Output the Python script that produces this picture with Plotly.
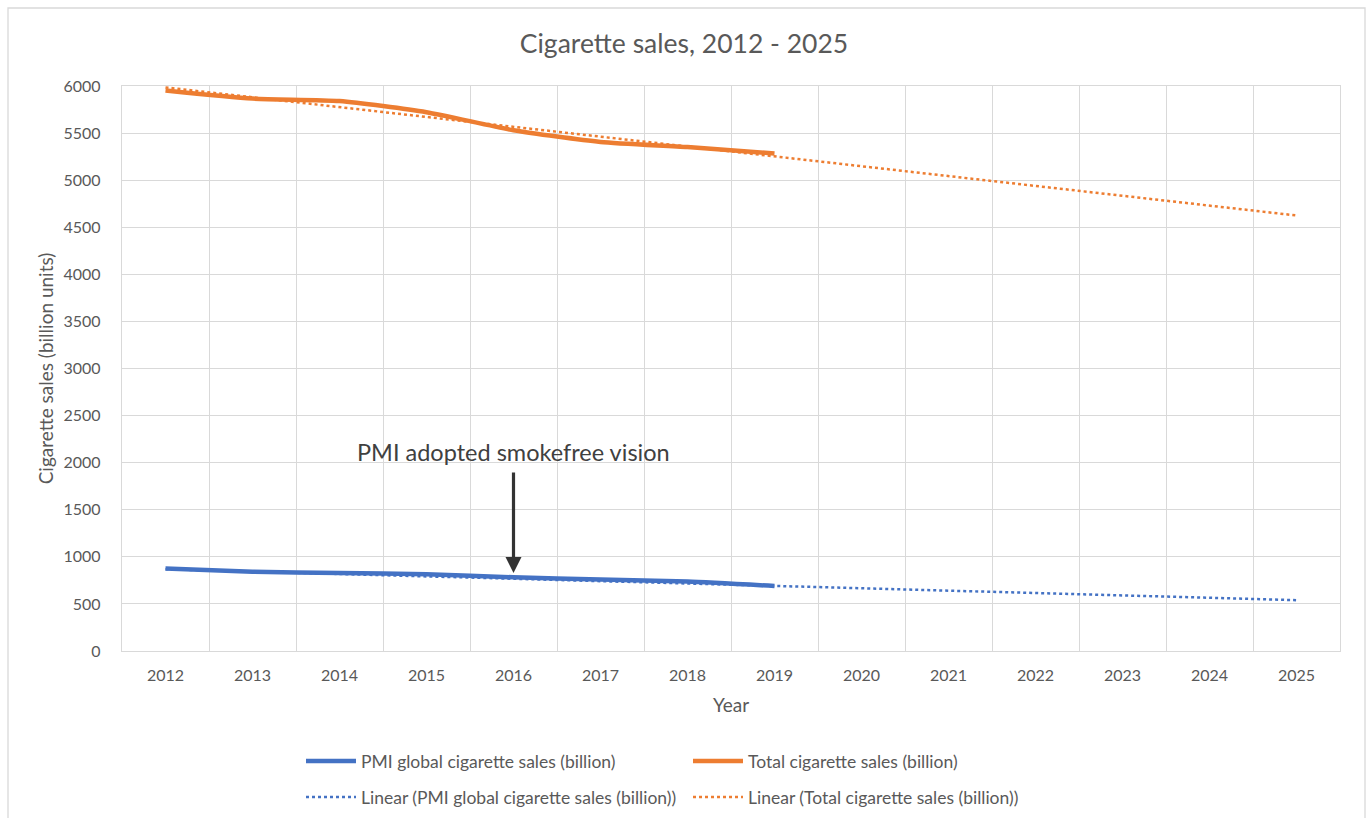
import plotly.graph_objects as go

years = [2012, 2013, 2014, 2015, 2016, 2017, 2018, 2019]
pmi_sales = [875, 842, 828, 815, 783, 760, 737, 690]
total_sales = [5952, 5866, 5840, 5722, 5530, 5406, 5352, 5283]

trend_years = [2012, 2025]
trend_pmi = [868, 540]
trend_total = [5985, 4625]

tick_years = list(range(2012, 2026))
y_ticks = list(range(0, 6001, 500))

BLUE = "#4472C4"
ORANGE = "#ED7D31"
TXT = "#595959"
GRID = "#D9D9D9"
FONT = "Lato"

W, H = 1368, 818
ML, MR, MT, MB = 122, 28, 86, 167
PW = W - ML - MR
PH = H - MT - MB

def px_x(p):
    return (p - ML) / PW

def px_y(p):
    return (H - MB - p) / PH

fig = go.Figure()

fig.add_trace(go.Scatter(
    x=trend_years, y=trend_pmi, mode="lines",
    name="Linear (PMI global cigarette sales (billion))",
    line=dict(color=BLUE, width=2.5, dash="dot"),
    legend="legend2",
))
fig.add_trace(go.Scatter(
    x=trend_years, y=trend_total, mode="lines",
    name="Linear (Total cigarette sales (billion))",
    line=dict(color=ORANGE, width=2.5, dash="dot"),
    legend="legend2",
))
fig.add_trace(go.Scatter(
    x=years, y=pmi_sales, mode="lines",
    name="PMI global cigarette sales (billion)",
    line=dict(color=BLUE, width=4.5, shape="spline", smoothing=0.6),
    legend="legend",
))
fig.add_trace(go.Scatter(
    x=years, y=total_sales, mode="lines",
    name="Total cigarette sales (billion)",
    line=dict(color=ORANGE, width=4.5, shape="spline", smoothing=0.6),
    legend="legend",
))

legend_common = dict(
    orientation="h",
    xref="container", yref="container",
    xanchor="left",
    yanchor="middle",
    x=301 / W,
    entrywidth=322,
    entrywidthmode="pixels",
    itemwidth=50,
    font=dict(family=FONT, size=17.5, color=TXT),
    bgcolor="rgba(0,0,0,0)",
    traceorder="normal",
)

fig.update_layout(
    width=W, height=H,
    margin=dict(l=ML, r=MR, t=MT, b=MB, autoexpand=False),
    paper_bgcolor="white",
    plot_bgcolor="white",
    font=dict(family=FONT, color=TXT),
    title=dict(
        text="Cigarette sales, 2012 - 2025",
        x=0.5, xanchor="center",
        y=1 - 44 / H, yanchor="middle", yref="container",
        font=dict(family=FONT, size=26.5, color=TXT),
    ),
    legend=dict(legend_common, y=1 - 761 / H),
    legend2=dict(legend_common, y=1 - 797 / H),
    showlegend=True,
    xaxis=dict(
        range=[2011.5, 2025.5],
        tickmode="array", tickvals=tick_years, ticktext=[str(y) for y in tick_years],
        showgrid=False,
        minor=dict(tickmode="array",
                   tickvals=[y - 0.5 for y in tick_years] + [2025.5],
                   showgrid=True, gridcolor=GRID, gridwidth=1.3),
        showline=True, linecolor=GRID, linewidth=1.3, mirror=True,
        zeroline=False,
        ticks="", ticklabelstandoff=10,
        tickfont=dict(family=FONT, size=16, color=TXT),
        title=dict(text="Year", font=dict(family=FONT, size=19, color=TXT), standoff=15),
    ),
    yaxis=dict(
        range=[0, 6000],
        tickmode="array", tickvals=y_ticks,
        showgrid=True, gridcolor=GRID, gridwidth=1.3,
        showline=True, linecolor=GRID, linewidth=1.3, mirror=True,
        zeroline=False,
        ticks="", ticklabelstandoff=17,
        tickfont=dict(family=FONT, size=16, color=TXT),
        title=dict(text="Cigarette sales (billion units)",
                   font=dict(family=FONT, size=19, color=TXT), standoff=4),
    ),
)

fig.add_annotation(
    text="PMI adopted smokefree vision",
    xref="x", yref="paper",
    x=2016, y=px_y(452),
    xanchor="center", yanchor="middle",
    showarrow=False,
    font=dict(family=FONT, size=23.5, color="#404040"),
)
fig.add_annotation(
    text="",
    xref="x", yref="paper",
    x=2016, y=px_y(573),
    ax=0, ay=-102, axref="pixel", ayref="pixel",
    showarrow=True, arrowhead=2, arrowsize=1, arrowwidth=3.2,
    arrowcolor="#333333",
)

fig.add_shape(
    type="rect", xref="paper", yref="paper",
    x0=px_x(8), x1=px_x(1365), y0=px_y(830), y1=px_y(8),
    line=dict(color=GRID, width=1.3), fillcolor="rgba(0,0,0,0)",
    layer="below",
)

fig.write_html("out.html")
